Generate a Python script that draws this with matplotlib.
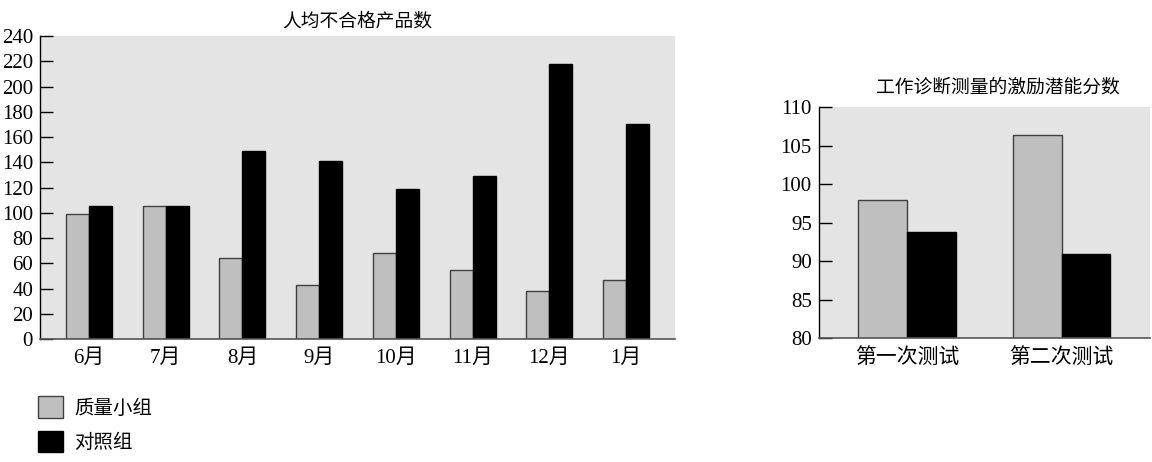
import matplotlib
matplotlib.use("Agg")
import matplotlib.pyplot as plt
import numpy as np
from matplotlib.patches import Patch

plt.rcParams['font.family'] = ['Liberation Serif', 'Noto Sans CJK SC', 'DejaVu Sans']

months = ['6月', '7月', '8月', '9月', '10月', '11月', '12月', '1月']
quality_group = [99, 105, 64, 43, 68, 55, 38, 47]
control_group = [105, 105, 149, 141, 119, 129, 218, 170]

tests = ['第一次测试', '第二次测试']
quality_mps = [97.9, 106.4]
control_mps = [93.8, 90.9]

title_left = '人均不合格产品数'
title_right = '工作诊断测量的激励潜能分数'
legend_labels = ['质量小组', '对照组']

GRAY = '#bfbfbf'
BG = '#e4e4e4'
EDGE = '#404040'

fig = plt.figure(figsize=(11.52, 4.62), dpi=100)

def style(ax):
    ax.set_facecolor(BG)
    ax.spines['top'].set_visible(False)
    ax.spines['right'].set_visible(False)
    ax.spines['left'].set_color('black')
    ax.spines['bottom'].set_color('#555555')
    ax.spines['left'].set_linewidth(1.0)
    ax.spines['bottom'].set_linewidth(1.2)
    ax.tick_params(axis='y', direction='in', length=9.5, width=1.0, labelsize=15, pad=5)
    ax.tick_params(axis='x', length=0, labelsize=15, pad=7)

# Left chart
ax1 = fig.add_axes([0.0347, 0.2662, 0.586 - 0.0347, 0.922 - 0.2662])
x = np.arange(len(months))
w = 0.3
ax1.bar(x - w / 2, quality_group, w, color=GRAY, edgecolor=EDGE, linewidth=1.0)
ax1.bar(x + w / 2, control_group, w, color='black', edgecolor='black', linewidth=1.0)
ax1.set_xlim(-0.64, 7.64)
ax1.set_ylim(0, 240)
ax1.set_yticks(np.arange(0, 241, 20))
ax1.set_xticks(x)
ax1.set_xticklabels(months)
style(ax1)
ax1.set_title(title_left, fontsize=13.5, pad=7)

# Right chart
ax2 = fig.add_axes([0.7107, 0.2677, 0.998 - 0.7107, 0.7677 - 0.2677])
x2 = np.arange(len(tests))
w2 = 0.316
ax2.bar(x2 - w2 / 2, quality_mps, w2, color=GRAY, edgecolor=EDGE, linewidth=1.0)
ax2.bar(x2 + w2 / 2, control_mps, w2, color='black', edgecolor='black', linewidth=1.0)
ax2.set_xlim(-0.57, 1.57)
ax2.set_ylim(80, 110)
ax2.set_yticks(np.arange(80, 111, 5))
ax2.set_xticks(x2)
ax2.set_xticklabels(tests)
style(ax2)
ax2.set_title(title_right, fontsize=13.5, pad=11, x=0.54)

handles = [Patch(facecolor=GRAY, edgecolor=EDGE, linewidth=1.0),
           Patch(facecolor='black', edgecolor='black')]
fig.legend(handles, legend_labels, loc='upper left', bbox_to_anchor=(0.033, 0.142),
           frameon=False, fontsize=14, handlelength=1.3, handleheight=1.3,
           labelspacing=0.7, handletextpad=0.55, borderaxespad=0, borderpad=0)

fig.savefig('out.png', dpi=100)
